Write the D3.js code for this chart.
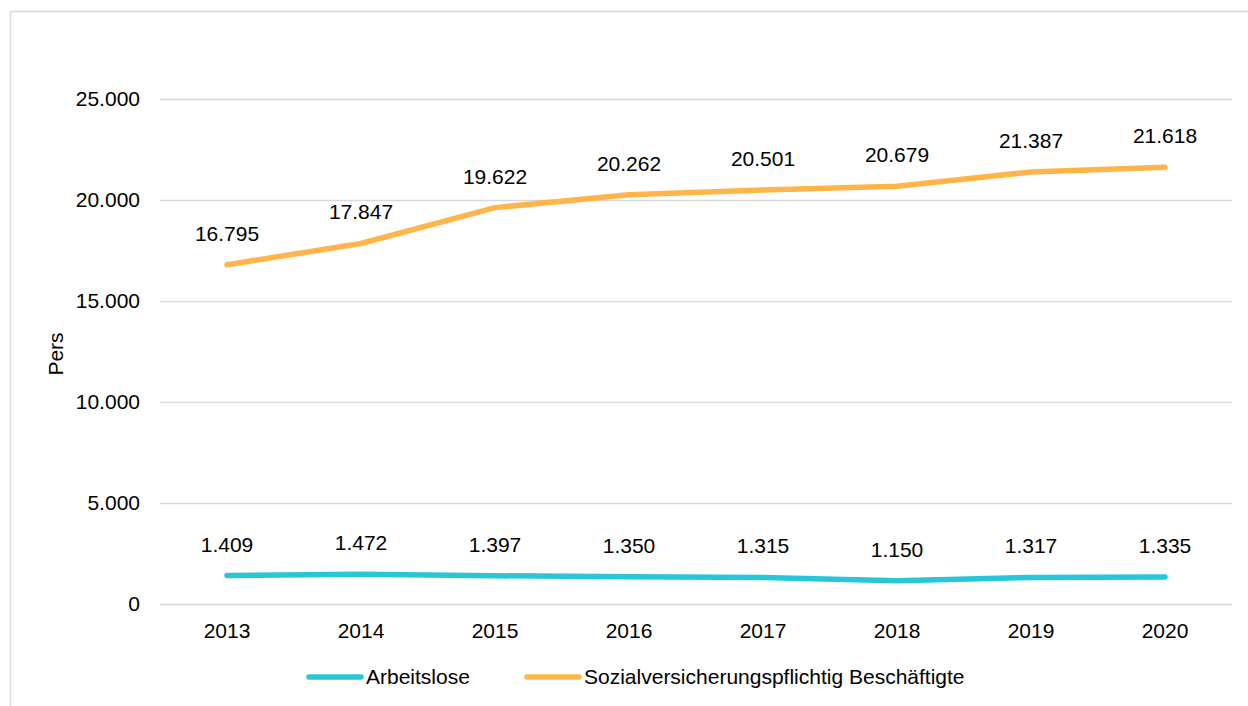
<!DOCTYPE html>
<html>
<head>
<meta charset="utf-8">
<script src="https://cdn.jsdelivr.net/npm/d3@7"></script>
<style>
  html, body { margin: 0; padding: 0; background: #fff; }
  svg { display: block; font-family: "Liberation Sans", Arial, sans-serif; }
</style>
</head>
<body>
<svg id="chart" width="1248" height="706"></svg>
<script>
// Jahre und Werte
const years = ["2013", "2014", "2015", "2016", "2017", "2018", "2019", "2020"];
const arbeitslose = [1409, 1472, 1397, 1350, 1315, 1150, 1317, 1335];
const beschaeftigte = [16795, 17847, 19622, 20262, 20501, 20679, 21387, 21618];
const yTicks = [0, 5000, 10000, 15000, 20000, 25000];
const seriesNames = ["Arbeitslose", "Sozialversicherungspflichtig Beschäftigte"];
const seriesColors = ["#29C6D8", "#FFB54A"];

const svg = d3.select("#chart");
const fontSize = 21;

// Rahmen des Diagrammbereichs
svg.append("rect")
  .attr("x", 10.5).attr("y", 11.5)
  .attr("width", 1300).attr("height", 800)
  .attr("fill", "none").attr("stroke", "#d9d9d9").attr("stroke-width", 1.5);

const plot = { left: 160, right: 1232, top: 99, bottom: 604 };

const x = d3.scaleBand().domain(years).range([plot.left, plot.right]);
const y = d3.scaleLinear().domain([0, 25000]).range([plot.bottom, plot.top]);

const fmt = v => d3.format(",")(v).replace(/,/g, ".");

// Gitterlinien und y-Achse
const yAxis = d3.axisLeft(y).tickValues(yTicks).tickFormat(fmt)
  .tickSize(-(plot.right - plot.left)).tickPadding(20);
const gy = svg.append("g").attr("transform", `translate(${plot.left},0)`).call(yAxis);
gy.select(".domain").remove();
gy.selectAll(".tick line").attr("stroke", "#d9d9d9").attr("stroke-width", 1.5);
gy.selectAll(".tick text").attr("font-size", fontSize).attr("fill", "#000")
  .attr("font-family", "Liberation Sans, Arial, sans-serif");

// x-Achse
const xAxis = d3.axisBottom(x).tickSize(0).tickPadding(19);
const gx = svg.append("g").attr("transform", `translate(0,${plot.bottom})`).call(xAxis);
gx.select(".domain").remove();
gx.selectAll(".tick text").attr("font-size", fontSize).attr("fill", "#000")
  .attr("font-family", "Liberation Sans, Arial, sans-serif");

// Achsentitel
svg.append("text")
  .attr("transform", "translate(63,354) rotate(-90)")
  .attr("text-anchor", "middle")
  .attr("font-size", fontSize)
  .text("Pers");

// Linien
const line = d3.line()
  .x((d, i) => x(years[i]) + x.bandwidth() / 2)
  .y(d => y(d));

[arbeitslose, beschaeftigte].forEach((vals, s) => {
  svg.append("path")
    .datum(vals)
    .attr("d", line)
    .attr("fill", "none")
    .attr("stroke", seriesColors[s])
    .attr("stroke-width", 5.5)
    .attr("stroke-linecap", "round")
    .attr("stroke-linejoin", "round");

  svg.append("g").selectAll("text")
    .data(vals)
    .join("text")
    .attr("x", (d, i) => x(years[i]) + x.bandwidth() / 2)
    .attr("y", d => y(d) - 24)
    .attr("text-anchor", "middle")
    .attr("font-size", fontSize)
    .attr("fill", "#000")
    .text(d => fmt(d));
});

// Legende
const legendItems = [
  { x1: 309, x2: 361, tx: 366 },
  { x1: 527, x2: 579, tx: 584 }
];
legendItems.forEach((it, s) => {
  svg.append("line")
    .attr("x1", it.x1).attr("x2", it.x2)
    .attr("y1", 677).attr("y2", 677)
    .attr("stroke", seriesColors[s])
    .attr("stroke-width", 5.5)
    .attr("stroke-linecap", "round");
  svg.append("text")
    .attr("x", it.tx).attr("y", 677)
    .attr("dy", "0.35em")
    .attr("font-size", fontSize)
    .text(seriesNames[s]);
});
</script>
</body>
</html>
